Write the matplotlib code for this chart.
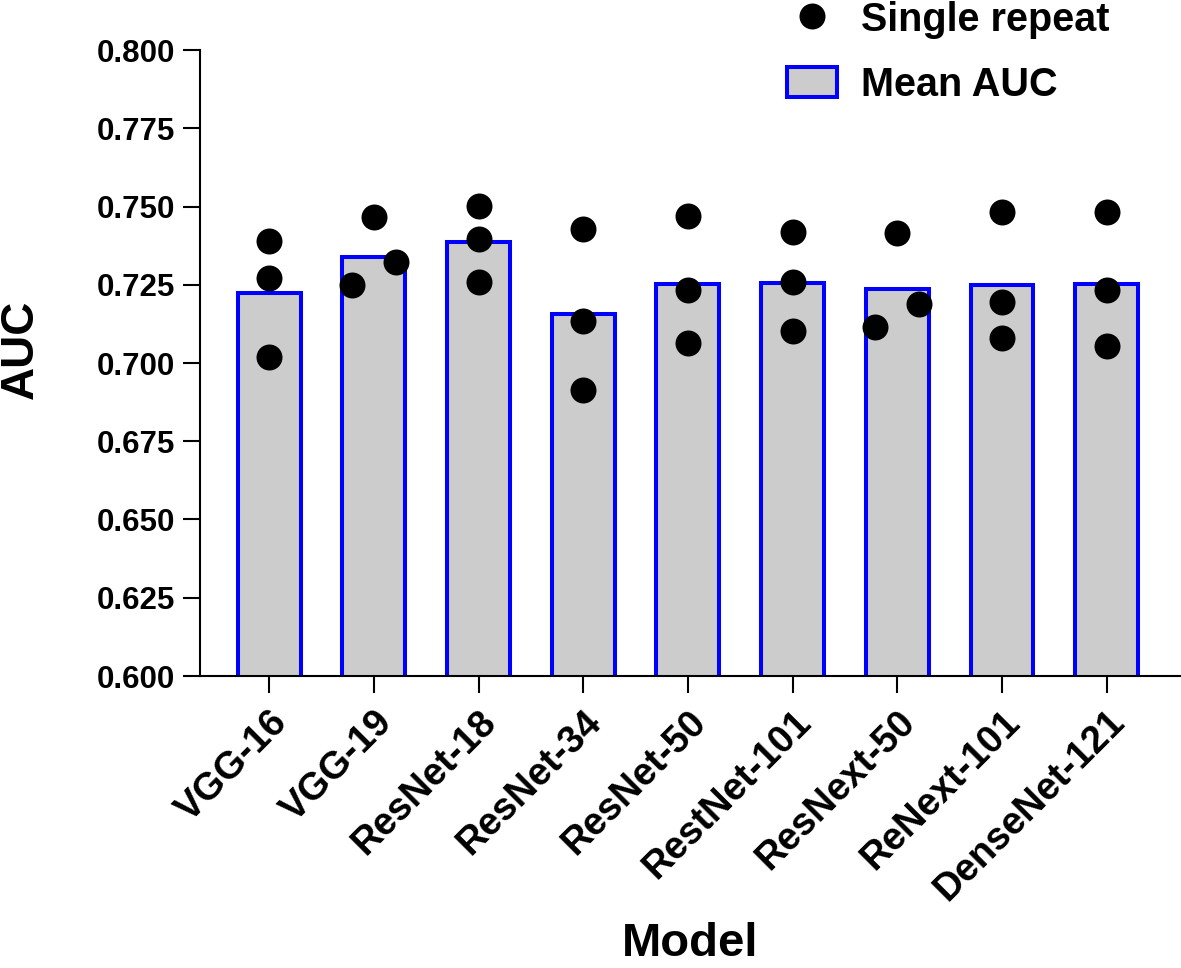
import numpy as np
import matplotlib
matplotlib.use('Agg')
import matplotlib.pyplot as plt

plt.rcParams['font.family'] = ['Liberation Sans', 'DejaVu Sans']
plt.rcParams['font.weight'] = 'bold'

# models and AUC values
models = ['VGG-16', 'VGG-19', 'ResNet-18', 'ResNet-34', 'ResNet-50',
          'RestNet-101', 'ResNext-50', 'ReNext-101', 'DenseNet-121']
mean_auc = [0.7225, 0.7340, 0.7385, 0.7155, 0.7252, 0.7257, 0.7237, 0.7250, 0.7253]
repeat_auc = [
    [0.7390, 0.7270, 0.7020],
    [0.7465, 0.7324, 0.7248],
    [0.7503, 0.7395, 0.7260],
    [0.7428, 0.7135, 0.6914],
    [0.7471, 0.7232, 0.7063],
    [0.7417, 0.7259, 0.7102],
    [0.7416, 0.7188, 0.7114],
    [0.7481, 0.7194, 0.7081],
    [0.7481, 0.7232, 0.7054],
]
# horizontal spread of the dots (Prism-style scatter)
dot_offsets = [
    [0, 0, 0], [0, 0.21, -0.21], [0, 0, 0], [0, 0, 0], [0, 0, 0],
    [0, 0, 0], [0, 0.21, -0.21], [0, 0, 0], [0, 0, 0],
]

x = np.arange(len(models))

fig = plt.figure(figsize=(11.81, 9.68), dpi=100)
ax = fig.add_axes([200 / 1181, 1 - 676 / 968, 980 / 1181, 626 / 968])

bars = ax.bar(x, mean_auc, width=0.6, color='#cccccc', edgecolor='#0000ff',
              linewidth=2.9, zorder=1, label='Mean AUC')

xs = np.concatenate([x[i] + np.array(dot_offsets[i]) for i in range(len(models))])
ys = np.concatenate([np.array(r) for r in repeat_auc])
dots = ax.scatter(xs, ys, s=350, color='black', linewidths=0, zorder=3,
                  label='Single repeat')

ax.set_ylim(0.6, 0.8)
ax.set_xlim(-0.66, 8.70)
ax.set_yticks(np.arange(0.6, 0.8001, 0.025))
ax.set_yticklabels(['%.3f' % v for v in np.arange(0.6, 0.8001, 0.025)])
ax.set_xticks(x)
ax.set_xticklabels(models, rotation=45, ha='right', va='top', rotation_mode='anchor')

ax.spines['top'].set_visible(False)
ax.spines['right'].set_visible(False)
for s in ['left', 'bottom']:
    ax.spines[s].set_linewidth(1.5)
ax.tick_params(axis='both', direction='out', length=12, width=1.5, pad=6)
ax.tick_params(axis='y', labelsize=22.5)
ax.tick_params(axis='x', labelsize=27.5, pad=8)

ax.set_ylabel('AUC', fontsize=33, fontweight='bold')
ax.yaxis.set_label_coords(-0.16, 0.522)
ax.set_xlabel('Model', fontsize=34, fontweight='bold')
ax.xaxis.set_label_coords(0.5, -0.393)

fig.legend(handles=[dots, bars], labels=['Single repeat', 'Mean AUC'],
           loc='upper left', bbox_to_anchor=(787 / 1181, 0.999), frameon=False,
           fontsize=28.5, borderpad=0, borderaxespad=0, handlelength=1.26,
           handleheight=0.78, handletextpad=0.6, labelspacing=0.68,
           scatteryoffsets=[0.5])

plt.savefig('out.png', dpi=100)
